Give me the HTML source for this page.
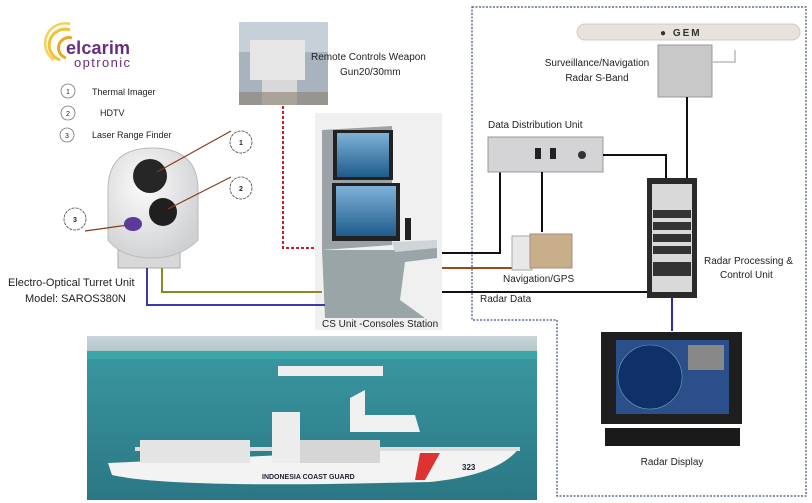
<!DOCTYPE html>
<html><head><meta charset="utf-8"><style>
html,body{margin:0;padding:0;background:#fff;}
svg{display:block;font-family:"Liberation Sans",sans-serif;}
</style></head><body>
<svg width="812" height="503" viewBox="0 0 812 503" xmlns="http://www.w3.org/2000/svg">
<defs>
<linearGradient id="sea" x1="0" y1="0" x2="0" y2="1"><stop offset="0" stop-color="#3b9aa3"/><stop offset="1" stop-color="#2a7784"/></linearGradient>
<linearGradient id="sky" x1="0" y1="0" x2="0" y2="1"><stop offset="0" stop-color="#c9d6da"/><stop offset="1" stop-color="#aec4c8"/></linearGradient>
<radialGradient id="dome" cx="0.4" cy="0.35" r="0.7"><stop offset="0" stop-color="#fbfbfb"/><stop offset="1" stop-color="#cfd0d2"/></radialGradient>
<linearGradient id="scr" x1="0" y1="0" x2="0" y2="1"><stop offset="0" stop-color="#7fb2d8"/><stop offset="1" stop-color="#1f5c8c"/></linearGradient>
</defs>

<path d="M472,7 H806 V496 H557 V320 H472 Z" fill="none" stroke="#3a4a8a" stroke-width="1.2" stroke-dasharray="2,1.5"/>

<!-- logo -->
<path d="M60,60 A14,14 0 0 1 70,30" fill="none" stroke="#f2c230" stroke-width="3"/>
<path d="M54,60 A20,20 0 0 1 70,24" fill="none" stroke="#f5d05a" stroke-width="2.5"/>
<path d="M66,58 A8,8 0 0 1 72,38" fill="none" stroke="#e8a820" stroke-width="3"/>
<text x="66" y="54" font-size="18" font-weight="bold" fill="#6a2c7e" textLength="64">elcarim</text>
<text x="74" y="67" font-size="13" fill="#6a2c7e" textLength="56">optronic</text>

<g font-size="9" fill="#222">
<circle cx="68" cy="91" r="7" fill="#fff" stroke="#777" stroke-width=".8"/><text x="68" y="94" font-size="7" text-anchor="middle">1</text>
<text x="92" y="95">Thermal Imager</text>
<circle cx="68" cy="113" r="7" fill="#fff" stroke="#777" stroke-width=".8"/><text x="68" y="116" font-size="7" text-anchor="middle">2</text>
<text x="100" y="116">HDTV</text>
<circle cx="67" cy="135" r="7" fill="#fff" stroke="#777" stroke-width=".8"/><text x="67" y="138" font-size="7" text-anchor="middle">3</text>
<text x="92" y="138">Laser Range Finder</text>
</g>

<!-- turret -->
<rect x="118" y="250" width="62" height="18" fill="#d8d8d8" stroke="#aaa"/>
<path d="M108,240 V190 Q108,148 152,148 Q198,148 198,190 V240 Q180,258 152,258 Q122,258 108,240 Z" fill="url(#dome)" stroke="#bbb"/>
<circle cx="150" cy="176" r="17" fill="#262626"/>
<circle cx="163" cy="212" r="14" fill="#1f1f1f"/>
<ellipse cx="133" cy="224" rx="9" ry="7" fill="#5b3a9a"/>
<g stroke="#8a3a1a" stroke-width="1.2" fill="none">
<path d="M231,131 L157,172"/><path d="M231,177 L168,209"/><path d="M85,231 L128,225"/>
</g>
<g fill="#fff" stroke="#444" stroke-width=".8">
<circle cx="241" cy="142" r="11" stroke-dasharray="3,1"/><circle cx="241" cy="188" r="11" stroke-dasharray="3,1"/><circle cx="75" cy="219" r="11" stroke-dasharray="3,1"/>
</g>
<g font-size="7" font-weight="bold" fill="#222" text-anchor="middle"><text x="241" y="145">1</text><text x="241" y="191">2</text><text x="75" y="222">3</text></g>
<text x="8" y="286" font-size="11" fill="#222">Electro-Optical Turret Unit</text>
<text x="25" y="302" font-size="11" fill="#222">Model: SAROS380N</text>

<!-- remote weapon -->
<rect x="239" y="22" width="89" height="83" fill="#a9b3bd"/>
<rect x="239" y="22" width="89" height="30" fill="#c7d0d8"/>
<rect x="250" y="40" width="55" height="40" fill="#e6e6e6"/>
<rect x="262" y="80" width="35" height="25" fill="#d8d8d8"/>
<rect x="239" y="92" width="89" height="13" fill="#8b8070" opacity=".6"/>
<text x="311" y="60" font-size="10" fill="#222">Remote Controls Weapon</text>
<text x="340" y="75" font-size="10" fill="#222">Gun20/30mm</text>
<path d="M283,106 V248 H325" fill="none" stroke="#c8202a" stroke-width="2" stroke-dasharray="3,2"/>

<!-- console -->
<rect x="315" y="113" width="127" height="217" fill="#f0f0f0"/>
<path d="M322,250 H398 L437,246 V258 L405,262 L400,300 L425,318 H325 Z" fill="#9aa5a8"/>
<path d="M322,130 L392,126 V245 L322,250 Z" fill="#9ba3a6"/>
<rect x="333" y="130" width="60" height="50" fill="#222"/>
<rect x="337" y="133" width="52" height="44" fill="url(#scr)"/>
<rect x="332" y="183" width="68" height="58" fill="#222"/>
<rect x="336" y="186" width="60" height="50" fill="url(#scr)"/>
<path d="M392,242 L437,240 V248 L395,252 Z" fill="#cfd4d6"/>
<rect x="405" y="218" width="6" height="22" fill="#222"/>
<text x="322" y="327" font-size="10" fill="#222">CS Unit -Consoles Station</text>

<path d="M162,268 V292 H322" fill="none" stroke="#8a8a20" stroke-width="2"/>
<path d="M147,268 V305 H325" fill="none" stroke="#3a3aaa" stroke-width="2"/>

<path d="M442,253 H500 V172" fill="none" stroke="#111" stroke-width="2"/>
<path d="M442,268 H518" fill="none" stroke="#9a4a1a" stroke-width="2"/>
<path d="M442,292 H648" fill="none" stroke="#111" stroke-width="2"/>
<text x="480" y="302" font-size="10" fill="#222">Radar Data</text>

<!-- DDU -->
<text x="488" y="128" font-size="10" fill="#222">Data Distribution Unit</text>
<rect x="488" y="137" width="115" height="35" fill="#d4d4d6" stroke="#999"/>
<rect x="535" y="148" width="6" height="11" fill="#222"/><rect x="550" y="148" width="6" height="11" fill="#222"/>
<circle cx="582" cy="155" r="4" fill="#333"/>
<path d="M542,172 V232" stroke="#111" stroke-width="2"/>
<path d="M603,155 H666 V180" fill="none" stroke="#111" stroke-width="2"/>

<!-- GPS -->
<rect x="512" y="236" width="20" height="34" fill="#e8e8e8" stroke="#aaa"/>
<rect x="530" y="234" width="42" height="34" fill="#c9ae8a" stroke="#a88"/>
<text x="503" y="282" font-size="10" fill="#222">Navigation/GPS</text>

<!-- radar antenna -->
<rect x="577" y="24" width="223" height="16" rx="8" fill="#e6e3dc" stroke="#ccc"/>
<text x="660" y="36" font-size="10" font-weight="bold" fill="#333" letter-spacing="2">● GEM</text>
<rect x="658" y="45" width="54" height="52" fill="#c8c8c8" stroke="#999"/>
<path d="M712,62 H735 V50" fill="none" stroke="#ccc" stroke-width="2"/>
<text x="597" y="66" font-size="10" fill="#222" text-anchor="middle">Surveillance/Navigation</text>
<text x="597" y="81" font-size="10" fill="#222" text-anchor="middle">Radar S-Band</text>
<path d="M687,97 V180" stroke="#111" stroke-width="2"/>

<!-- rack -->
<rect x="647" y="178" width="50" height="120" fill="#2a2a2a"/>
<rect x="652" y="184" width="40" height="108" fill="#d9d9d9"/>
<g fill="#333"><rect x="653" y="210" width="38" height="8"/><rect x="653" y="222" width="38" height="8"/><rect x="653" y="234" width="38" height="8"/><rect x="653" y="246" width="38" height="8"/><rect x="653" y="262" width="38" height="14"/></g>
<text x="704" y="264" font-size="10" fill="#222">Radar Processing &amp;</text>
<text x="720" y="278" font-size="10" fill="#222">Control Unit</text>
<path d="M672,298 V331" stroke="#2a2aaa" stroke-width="2"/>

<!-- radar display -->
<rect x="601" y="332" width="141" height="92" fill="#1e1e1e"/>
<rect x="616" y="340" width="113" height="74" fill="#2a4f8a"/>
<circle cx="650" cy="377" r="32" fill="#10306a" stroke="#6aa" stroke-width=".6"/>
<rect x="688" y="345" width="36" height="25" fill="#888"/>
<rect x="605" y="428" width="135" height="18" fill="#1a1a1a"/>
<text x="672" y="465" font-size="10" fill="#222" text-anchor="middle">Radar Display</text>

<!-- ship photo -->
<rect x="87" y="336" width="450" height="164" fill="url(#sea)"/>
<rect x="87" y="336" width="450" height="18" fill="url(#sky)"/>
<rect x="87" y="351" width="450" height="8" fill="#3aa6a8"/>
<rect x="278" y="366" width="105" height="10" fill="#eee"/>
<path d="M108,463 L112,475 Q160,486 330,484 L430,482 Q500,475 520,447 L460,447 Z" fill="#f3f3f3"/>
<rect x="135" y="447" width="385" height="4" fill="#ddd"/>
<path d="M140,440 H250 V463 H140 Z" fill="#e4e4e4"/>
<path d="M272,412 H300 V463 H272 Z" fill="#ededed"/>
<path d="M300,440 H380 V463 H300 Z" fill="#d6d6d6"/>
<path d="M350,398 L365,390 V415 H415 L420,432 H350 Z" fill="#f0f0f0"/>
<path d="M420,453 L440,453 L425,480 L415,480 Z" fill="#d33"/>
<text x="262" y="479" font-size="7" font-weight="bold" fill="#223">INDONESIA COAST GUARD</text>
<text x="462" y="470" font-size="8" font-weight="bold" fill="#223">323</text>
</svg>
</body></html>
